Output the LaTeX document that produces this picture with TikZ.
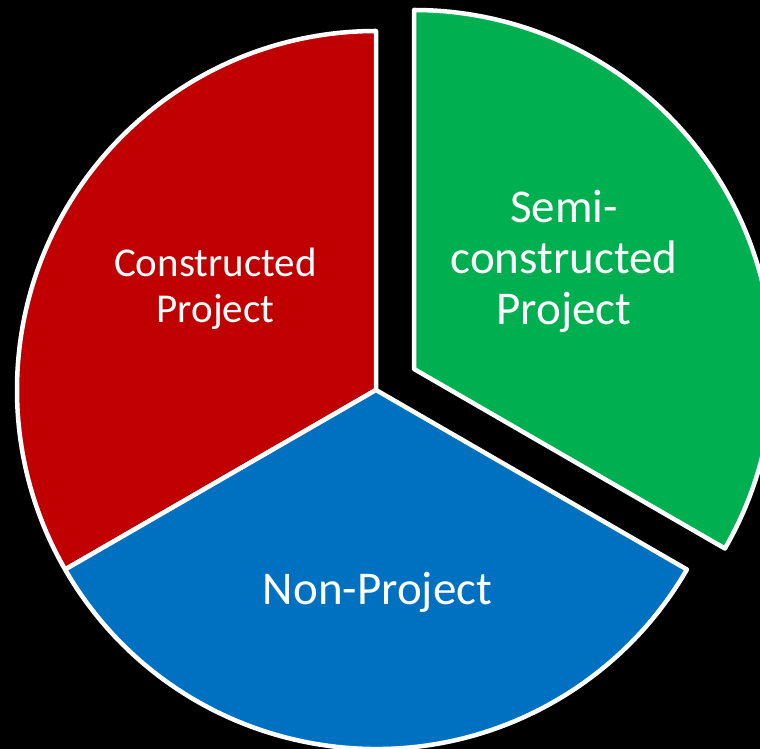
\documentclass[tikz,border=0pt]{standalone}
\usepackage{fontspec}
\setmainfont{Carlito}
\usepackage{tikz}
\definecolor{pieRed}{RGB}{192,0,0}
\definecolor{pieGreen}{RGB}{0,176,80}
\definecolor{pieBlue}{RGB}{0,112,192}

\begin{document}
\begin{tikzpicture}[x=1pt, y=1pt,
  wedge/.style={draw=white, line width=4.5pt, line join=round},
  wedgetext/.style={text=white, align=center, anchor=base, inner sep=0pt}]
  \fill[black] (0,0) rectangle (760,749);
  \clip (0,0) rectangle (760,749);
  \coordinate (mid) at (376,359);
  \coordinate (pulled) at (414,380); % green slice pulled out along 30 deg
  \draw[wedge, fill=pieRed] (mid) -- ++(90:359) arc[start angle=90, end angle=210, radius=359] -- cycle;
  \draw[wedge, fill=pieBlue] (mid) -- ++(210:359) arc[start angle=210, end angle=330, radius=359] -- cycle;
  \draw[wedge, fill=pieGreen] (pulled) -- ++(-30:359) arc[start angle=-30, end angle=90, radius=359] -- cycle;
  % base anchor sits on the last line
  \node[wedgetext, font=\fontsize{41}{46}\selectfont] (built) at (215.5,426) {Constructed\\Project};
  \node[wedgetext, font=\fontsize{47}{51}\selectfont] (semi) at (564,424) {Semi-\\constructed\\Project};
  \node[wedgetext, font=\fontsize{47}{51}\selectfont] (nonp) at (377.5,144) {Non-Project};
\end{tikzpicture}
\end{document}
